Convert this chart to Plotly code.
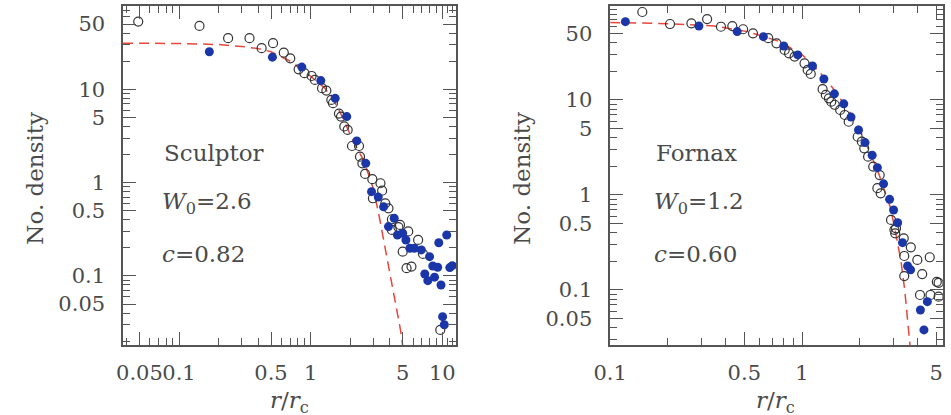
import plotly.graph_objects as go

# ---------------- Sculptor (left panel) ----------------
scl_open_x = [0.049, 0.143, 0.236, 0.343, 0.424, 0.518, 0.625, 0.70, 0.81, 0.897, 1.017, 1.077,
              1.22, 1.316, 1.435, 1.477, 1.64, 1.70, 1.80, 1.91, 2.06, 2.33, 2.37, 2.47, 2.59,
              2.94, 3.39, 3.49, 2.97, 3.69, 3.90, 4.14, 4.64, 5.51, 6.55, 5.0, 5.35, 5.83,
              7.13, 9.65, 4.14, 4.77]
scl_open_y = [53.2, 47.8, 35.3, 35.3, 27.6, 31.2, 24.7, 21.5, 16.4, 14.9, 13.9, 12.6,
              10.3, 9.7, 7.7, 7.1, 5.5, 5.1, 4.0, 3.67, 2.47, 2.47, 1.9, 1.61, 1.24,
              1.09, 0.985, 0.82, 0.68, 0.60, 0.53, 0.311, 0.333, 0.30, 0.243, 0.182, 0.121, 0.126,
              0.172, 0.0264, 0.405, 0.352]

scl_fill_x = [0.170, 0.512, 0.857, 1.194, 1.536, 1.88, 2.24, 2.62, 2.90, 3.26, 3.58, 4.31,
              3.90, 4.56, 5.0, 5.29, 5.67, 6.14, 6.93, 8.0, 8.46, 9.22, 7.36, 7.76, 8.73,
              9.77, 9.4, 10.8, 11.4, 11.9, 10.05, 10.35]
scl_fill_y = [25.3, 22.1, 17.3, 12.4, 8.0, 5.1, 2.8, 1.61, 0.80, 0.70, 0.55, 0.415,
              0.338, 0.275, 0.287, 0.243, 0.198, 0.198, 0.19, 0.161, 0.128, 0.124, 0.105, 0.089, 0.097,
              0.080, 0.227, 0.275, 0.123, 0.129, 0.0366, 0.030]

scl_model_x = [0.0376, 0.1, 0.2, 0.3, 0.4, 0.5, 0.7, 1.0, 1.28, 1.5, 1.75, 2.03, 2.54, 3.0,
               3.3, 3.7, 4.1, 4.5, 4.8, 5.0, 5.05]
scl_model_y = [31.2, 31.0, 30.2, 28.8, 27.3, 25.3, 20.0, 13.8, 10.3, 7.6, 5.0, 3.1, 1.7, 0.85,
               0.45, 0.19, 0.085, 0.045, 0.027, 0.018, 0.012]

# ---------------- Fornax (right panel) ----------------
fnx_open_x = [0.147, 0.205, 0.265, 0.320, 0.378, 0.433, 0.493, 0.555, 0.667, 0.736, 0.812, 0.855,
              0.915, 1.03, 1.07, 1.11, 1.28, 1.33, 1.38, 1.42, 1.48, 1.58, 1.67, 1.75, 1.95,
              2.05, 2.11, 2.21, 2.35, 2.54, 2.47, 2.57, 2.91, 3.09, 3.06, 3.41, 3.69, 3.41,
              3.99, 4.23, 4.63, 4.12, 4.67, 5.15, 5.15, 5.04, 3.39, 3.03]
fnx_open_y = [84.3, 63.0, 64.0, 71.0, 59.0, 60.0, 55.5, 50.3, 44.7, 39.5, 33.6, 31.0,
              28.6, 24.3, 20.7, 18.8, 13.0, 11.3, 10.4, 9.6, 8.9, 7.85, 6.95, 5.9, 4.1,
              3.64, 3.1, 2.53, 1.99, 1.62, 1.18, 1.04, 0.546, 0.446, 0.395, 0.228, 0.281, 0.140,
              0.207, 0.147, 0.221, 0.0886, 0.0886, 0.119, 0.085, 0.122, 0.35, 0.43]

fnx_fill_x = [0.120, 0.290, 0.459, 0.629, 0.803, 0.95, 1.134, 1.30, 1.475, 1.65, 1.80, 1.97,
              2.13, 2.32, 2.47, 2.66, 2.86, 3.0, 3.15, 3.34, 3.55, 3.68, 4.14, 4.50, 4.32]
fnx_fill_y = [66.7, 60.0, 52.4, 46.4, 37.0, 29.8, 22.8, 16.6, 11.6, 9.1, 6.6, 4.83,
              3.56, 2.62, 1.94, 1.31, 0.90, 0.695, 0.51, 0.315, 0.179, 0.163, 0.0616, 0.0753, 0.038]

fnx_model_x = [0.1, 0.2, 0.35, 0.52, 0.77, 1.0, 1.2, 1.435, 1.75, 2.0, 2.49, 2.9, 3.09, 3.28,
               3.43, 3.61, 3.7]
fnx_model_y = [65.5, 63.5, 60.0, 52.4, 41.0, 30.0, 21.0, 13.6, 7.8, 4.9, 1.76, 0.72, 0.38, 0.20,
               0.10, 0.038, 0.02]

# ---------------- tick labels ----------------
scl_xticks = [0.05, 0.1, 0.5, 1, 5, 10]
scl_xtext = ["0.05", "0.1", "0.5", "1", "5", "10"]
scl_yticks = [0.05, 0.1, 0.5, 1, 5, 10, 50]
scl_ytext = ["0.05", "0.1", "0.5", "1", "5", "10", "50"]
fnx_xticks = [0.1, 0.5, 1, 5]
fnx_xtext = ["0.1", "0.5", "1", "5"]
fnx_yticks = [0.05, 0.1, 0.5, 1, 5, 10, 50]
fnx_ytext = ["0.05", "0.1", "0.5", "1", "5", "10", "50"]

scl_xminor = [0.04, 0.06, 0.07, 0.08, 0.09, 0.2, 0.3, 0.4, 0.6, 0.7, 0.8, 0.9,
              2, 3, 4, 6, 7, 8, 9, 11, 12]
scl_yminor = [0.02, 0.03, 0.04, 0.06, 0.07, 0.08, 0.09, 0.2, 0.3, 0.4, 0.6, 0.7, 0.8, 0.9,
              2, 3, 4, 6, 7, 8, 9, 20, 30, 40, 60, 70]
fnx_xminor = [0.2, 0.3, 0.4, 0.6, 0.7, 0.8, 0.9, 2, 3, 4]
fnx_yminor = [0.03, 0.04, 0.06, 0.07, 0.08, 0.09, 0.2, 0.3, 0.4, 0.6, 0.7, 0.8, 0.9,
              2, 3, 4, 6, 7, 8, 9, 20, 30, 40, 60, 70, 80, 90]

W, H = 951, 415
FONT = "DejaVu Serif"
TXT = "#4a4a4a"
FRAME = "#555555"
BLUE = "#1a36a8"
RED = "#e8463c"

fig = go.Figure()


def add_panel(xa, ya, ox, oy, fx, fy, mx, my):
    fig.add_trace(go.Scatter(x=mx, y=my, mode="lines", xaxis=xa, yaxis=ya,
                             line=dict(color=RED, width=1.5, dash="10px,6px"),
                             showlegend=False, hoverinfo="skip"))
    fig.add_trace(go.Scatter(x=ox, y=oy, mode="markers", xaxis=xa, yaxis=ya,
                             marker=dict(symbol="circle-open", size=9, color="#333333",
                                         line=dict(width=1.2, color="#333333")),
                             showlegend=False))
    fig.add_trace(go.Scatter(x=fx, y=fy, mode="markers", xaxis=xa, yaxis=ya,
                             marker=dict(symbol="circle", size=9, color=BLUE,
                                         line=dict(width=0)),
                             showlegend=False))


add_panel("x", "y", scl_open_x, scl_open_y, scl_fill_x, scl_fill_y, scl_model_x, scl_model_y)
add_panel("x2", "y2", fnx_open_x, fnx_open_y, fnx_fill_x, fnx_fill_y, fnx_model_x, fnx_model_y)


def axis(domain, rng, tv, tt, minor, anchor, standoff):
    return dict(type="log", domain=domain, range=rng, anchor=anchor,
                tickmode="array", tickvals=tv, ticktext=tt, tickangle=0,
                ticks="inside", ticklen=13, tickwidth=1.3, tickcolor=FRAME,
                minor=dict(tickmode="array", tickvals=minor, ticks="inside",
                           ticklen=7, tickwidth=1.1, tickcolor=FRAME, showgrid=False),
                showline=True, linecolor=FRAME, linewidth=1.5, mirror="allticks",
                showgrid=False, zeroline=False,
                tickfont=dict(family=FONT, size=21, color=TXT),
                ticklabelstandoff=standoff)


ydom = [1 - 345 / H, 1 - 6 / H]
fig.update_layout(
    width=W, height=H,
    margin=dict(l=0, r=0, t=0, b=0),
    paper_bgcolor="white", plot_bgcolor="white",
    xaxis=axis([108 / W, 447 / W], [-1.425, 1.104], scl_xticks, scl_xtext, scl_xminor, "y", 8),
    yaxis=axis(ydom, [-1.740, 1.893], scl_yticks, scl_ytext, scl_yminor, "x", 12),
    xaxis2=axis([604 / W, 942.7 / W], [-1.0, 0.734], fnx_xticks, fnx_xtext, fnx_xminor, "y2", 8),
    yaxis2=axis(ydom, [-1.579, 1.989], fnx_yticks, fnx_ytext, fnx_yminor, "x2", 12),
)

ann_font = dict(family=FONT, size=23, color=TXT)
notes = [
    (148, 153, "Sculptor"), (146, 203, "<i>W</i><sub>0</sub>=2.6"), (146, 254, "<i>c</i>=0.82"),
    (649, 153, "Fornax"), (647, 203, "<i>W</i><sub>0</sub>=1.2"), (647, 254, "<i>c</i>=0.60"),
]
for px, py, t in notes:
    fig.add_annotation(x=px / W, y=1 - py / H, xref="paper", yref="paper", text=t,
                       showarrow=False, xanchor="left", yanchor="middle", font=ann_font)

for px in (18, 514):
    fig.add_annotation(x=px / W, y=1 - 178 / H, xref="paper", yref="paper", text="No. density",
                       textangle=-90, showarrow=False, xanchor="center", yanchor="middle",
                       font=dict(family=FONT, size=23, color=TXT))
for px in (277, 772):
    fig.add_annotation(x=px / W, y=1 - 402 / H, xref="paper", yref="paper",
                       text="<i>r</i>/<i>r</i><sub>c</sub>", showarrow=False,
                       xanchor="center", yanchor="middle",
                       font=dict(family=FONT, size=23, color=TXT))

fig.write_html("out.html")
